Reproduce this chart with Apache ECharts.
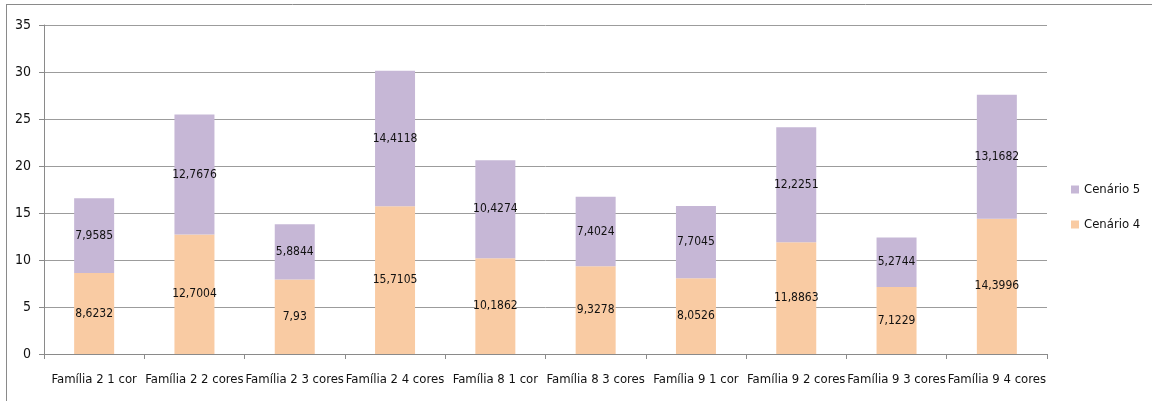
<!DOCTYPE html>
<html>
<head>
<meta charset="utf-8">
<script src="https://cdn.jsdelivr.net/npm/echarts@6/dist/echarts.min.js"></script>
<style>
  html, body { margin: 0; padding: 0; background: #fff; }
  #chart { width: 1152px; height: 401px; }
</style>
</head>
<body>
<div id="chart"></div>
<script>
// Categories and the two scenario series (stacked)
const categories = [
  'Família 2 1 cor', 'Família 2 2 cores', 'Família 2 3 cores', 'Família 2 4 cores',
  'Família 8 1 cor', 'Família 8 3 cores', 'Família 9 1 cor', 'Família 9 2 cores',
  'Família 9 3 cores', 'Família 9 4 cores'
];
const cenario4 = [8.6232, 12.7004, 7.93, 15.7105, 10.1862, 9.3278, 8.0526, 11.8863, 7.1229, 14.3996];
const cenario5 = [7.9585, 12.7676, 5.8844, 14.4118, 10.4274, 7.4024, 7.7045, 12.2251, 5.2744, 13.1682];
const yTicks = [0, 5, 10, 15, 20, 25, 30, 35];

const FONT = "'DejaVu Sans Condensed', 'Liberation Sans Narrow', sans-serif";
const fmt = v => String(v).replace('.', ',');

const chart = echarts.init(document.getElementById('chart'), null, { renderer: 'canvas' });

const labelStyle = {
  show: true,
  position: 'inside',
  formatter: p => fmt(p.value),
  color: '#111',
  fontFamily: FONT,
  fontSize: 12
};

chart.setOption({
  animation: false,
  textStyle: { fontFamily: FONT },
  graphic: [
    { type: 'line', shape: { x1: 6, y1: 4.5, x2: 1152, y2: 4.5 }, style: { stroke: '#8a8a8a', lineWidth: 1 } },
    { type: 'line', shape: { x1: 6.5, y1: 4, x2: 6.5, y2: 401 }, style: { stroke: '#8a8a8a', lineWidth: 1 } }
  ],
  grid: { left: 44, right: 105, top: 25, bottom: 47, containLabel: false },
  legend: {
    orient: 'vertical',
    left: 1066,
    top: 178,
    itemWidth: 8,
    itemHeight: 8,
    itemGap: 22,
    icon: 'rect',
    data: ['Cenário 5', 'Cenário 4'],
    textStyle: { fontFamily: FONT, fontSize: 13, color: '#111' }
  },
  xAxis: {
    type: 'category',
    data: categories,
    axisLine: { lineStyle: { color: '#8a8a8a', width: 1 } },
    axisTick: { show: true, alignWithLabel: false, length: 5, lineStyle: { color: '#8a8a8a' } },
    axisLabel: { interval: 0, color: '#111', fontFamily: FONT, fontSize: 13, margin: 19 },
    splitLine: { show: false }
  },
  yAxis: {
    type: 'value',
    min: yTicks[0],
    max: yTicks[yTicks.length - 1],
    interval: 5,
    axisLine: { show: true, lineStyle: { color: '#8a8a8a', width: 1 } },
    axisTick: { show: true, length: 5, lineStyle: { color: '#8a8a8a' } },
    axisLabel: { color: '#111', fontFamily: FONT, fontSize: 14, margin: 13 },
    splitLine: { show: true, lineStyle: { color: '#9c9c9c', width: 1 } }
  },
  series: [
    {
      name: 'Cenário 4',
      type: 'bar',
      stack: 'total',
      data: cenario4,
      barWidth: 40,
      itemStyle: { color: '#F9CBA3' },
      label: labelStyle
    },
    {
      name: 'Cenário 5',
      type: 'bar',
      stack: 'total',
      data: cenario5,
      barWidth: 40,
      itemStyle: { color: '#C6B7D6' },
      label: labelStyle
    }
  ]
});
</script>
</body>
</html>
